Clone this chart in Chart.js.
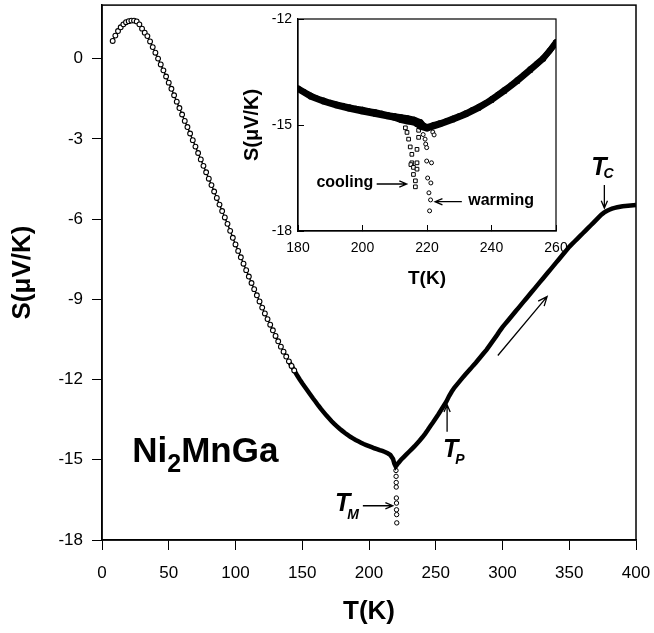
<!DOCTYPE html>
<html>
<head>
<meta charset="utf-8">
<script src="https://cdn.jsdelivr.net/npm/chart.js@4.4.0/dist/chart.umd.min.js"></script>
<style>
  body { margin: 0; background: #fff; }
  #wrap { position: relative; width: 654px; height: 633px; }
  #main { position: absolute; left: 0; top: 0; }
  #inset { position: absolute; left: 230px; top: 0; }
</style>
</head>
<body>
<div id="wrap">
  <canvas id="main" width="654" height="633"></canvas>
  <canvas id="inset" width="340" height="300"></canvas>
</div>
<script>
var FONT = '"Liberation Sans", Arial, Helvetica, sans-serif';

// thermopower of Ni2MnGa, full warming run (T in K, S in uV/K)
var mainT = [8,10,12,14,16,18,20,22,24,26,
  28,30,32,34,36,38,40,42,44,46,
  48,50,52,54,56,58,60,62,64,66,
  68,70,72,74,76,78,80,82,84,86,
  88,90,92,94,96,98,100,102,104,106,
  108,110,112,114,116,118,120,122,124,126,
  128,130,132,134,136,138,140,142,144,146,
  148,150,152,154,156,158,160,162,164,166,
  168,170,172,174,176,178,180,182,184,186,
  188,190,192,194,196,198,200,202,204,206,
  208,210,212,214,216,218,219,220,222,224,
  226,228,230,232,234,236,238,240,242,244,
  246,248,250,252,254,256,258,260,262,264,
  266,268,270,272,274,276,278,280,282,284,
  286,288,290,292,294,296,298,300,302,304,
  306,308,310,312,314,316,318,320,322,324,
  326,328,330,332,334,336,338,340,342,344,
  346,348,350,352,354,356,358,360,362,364,
  366,368,370,372,374,376,378,380,382,384,
  386,388,390,392,394,396,398,400];
var mainS = [0.66,0.86,1.03,1.17,1.28,1.36,1.40,1.42,1.42,1.39,
  1.28,1.12,0.97,0.84,0.64,0.43,0.22,0.00,-0.22,-0.44,
  -0.67,-0.90,-1.13,-1.37,-1.61,-1.85,-2.09,-2.33,-2.56,-2.80,
  -3.05,-3.29,-3.53,-3.77,-4.01,-4.25,-4.49,-4.73,-4.97,-5.21,
  -5.46,-5.70,-5.94,-6.18,-6.44,-6.70,-6.95,-7.19,-7.43,-7.67,
  -7.91,-8.15,-8.39,-8.62,-8.85,-9.08,-9.31,-9.53,-9.74,-9.95,
  -10.16,-10.37,-10.57,-10.77,-10.96,-11.14,-11.32,-11.49,-11.66,-11.83,
  -11.99,-12.14,-12.28,-12.42,-12.56,-12.70,-12.83,-12.97,-13.10,-13.22,
  -13.34,-13.45,-13.56,-13.66,-13.75,-13.84,-13.92,-14.00,-14.07,-14.14,
  -14.20,-14.26,-14.31,-14.36,-14.41,-14.45,-14.49,-14.53,-14.57,-14.60,
  -14.64,-14.67,-14.71,-14.76,-14.82,-14.97,-15.15,-15.25,-15.12,-15.00,
  -14.90,-14.80,-14.70,-14.60,-14.50,-14.39,-14.28,-14.16,-14.03,-13.89,
  -13.74,-13.60,-13.45,-13.30,-13.14,-12.98,-12.82,-12.62,-12.45,-12.30,
  -12.18,-12.06,-11.94,-11.82,-11.71,-11.60,-11.48,-11.37,-11.25,-11.13,
  -11.01,-10.89,-10.75,-10.61,-10.47,-10.33,-10.18,-10.04,-9.92,-9.80,
  -9.68,-9.56,-9.44,-9.32,-9.20,-9.08,-8.96,-8.84,-8.72,-8.60,
  -8.48,-8.36,-8.24,-8.12,-8.00,-7.88,-7.76,-7.64,-7.52,-7.40,
  -7.28,-7.16,-7.04,-6.94,-6.84,-6.74,-6.64,-6.54,-6.44,-6.34,
  -6.24,-6.14,-6.04,-5.94,-5.84,-5.76,-5.70,-5.65,-5.61,-5.58,
  -5.56,-5.54,-5.52,-5.51,-5.50,-5.49,-5.48,-5.47];

// the drop at the martensitic transition
var dropT = [220.2,220.3,220.4,220.4,220.5,220.6,220.6,220.7,220.8];
var dropS = [-15.40,-15.62,-15.85,-16.02,-16.43,-16.62,-16.87,-17.05,-17.36];

// inset, 180-260 K: warming run (circles)
var warmT = [180,182,184,186,188,190,192,194,196,198,200,202,204,206,208,210,212,214,216,218,219,
  220,222,224,226,228,230,232,234,236,238,240,242,244,246,248,250,252,254,256,258,260];
var warmS = [-13.96,-14.07,-14.17,-14.25,-14.31,-14.37,-14.42,-14.46,-14.50,-14.54,-14.57,-14.61,-14.64,-14.68,-14.72,-14.75,-14.78,-14.81,-14.85,-14.92,-15.02,
  -15.06,-15.00,-14.95,-14.89,-14.82,-14.75,-14.67,-14.58,-14.49,-14.39,-14.27,-14.14,-14.01,-13.88,-13.73,-13.58,-13.42,-13.27,-13.11,-12.90,-12.65];
var warmDipT = [218.8,219.4,219.6,219.9,219.9,221.4,220.2,221.2,220.6,221.1,220.8,221.8,222.2];
var warmDipS = [-15.27,-15.40,-15.54,-15.64,-16.02,-16.07,-16.50,-16.64,-16.92,-17.12,-17.43,-15.20,-15.28];

// inset: cooling run (squares)
var coolT = [180,184,188,192,196,200,204,208,210,212,214,216,217,218,220,224,228,232,236,240,244,248,252,256,260];
var coolS = [-13.98,-14.20,-14.34,-14.45,-14.54,-14.62,-14.69,-14.76,-14.80,-14.86,-14.90,-14.93,-14.98,-15.05,-15.10,
  -14.98,-14.85,-14.70,-14.52,-14.30,-14.04,-13.76,-13.45,-13.13,-12.68];
var coolDipT = [213.3,213.8,214.3,214.8,215.3,215.3,215.0,215.8,215.8,216.4,216.4,216.9,216.9,216.9,217.4,217.4];
var coolDipS = [-15.08,-15.21,-15.40,-15.62,-15.83,-16.07,-16.12,-16.20,-16.40,-16.58,-16.75,-15.69,-16.07,-16.25,-15.35,-15.15];

var xTicks = [0,50,100,150,200,250,300,350,400];
var yTicks = [-18,-15,-12,-9,-6,-3,0];
var insetXTicks = [180,200,220,240,260];
var insetYTicks = [-18,-15,-12];

function pts(xs, ys) {
  return xs.map(function (x, i) { return { x: x, y: ys[i] }; });
}
function fixedTicks(list) {
  return function (scale) {
    scale.ticks = list.map(function (v) { return { value: v }; });
  };
}
// fixed axis box, no extra room for the end labels
function fixedSize(key, size) {
  return function (s) {
    s[key] = size;
    s.paddingTop = 0; s.paddingBottom = 0; s.paddingLeft = 0; s.paddingRight = 0;
  };
}

// open arrow head
function arrow(ctx, x1, y1, x2, y2, head) {
  var a = Math.atan2(y2 - y1, x2 - x1);
  ctx.beginPath();
  ctx.moveTo(x1, y1);
  ctx.lineTo(x2, y2);
  ctx.moveTo(x2 - head * Math.cos(a - 0.4), y2 - head * Math.sin(a - 0.4));
  ctx.lineTo(x2, y2);
  ctx.lineTo(x2 - head * Math.cos(a + 0.4), y2 - head * Math.sin(a + 0.4));
  ctx.stroke();
}

// T with an italic subscript
function tLabel(ctx, x, y, sub, dx, dy) {
  ctx.font = 'italic bold 25px ' + FONT;
  ctx.fillText('T', x, y);
  var w = ctx.measureText('T').width;
  ctx.font = 'italic bold 14px ' + FONT;
  ctx.fillText(sub, x + w + dx, y + dy);
}

var frame = {
  id: 'frame',
  beforeDatasetsDraw: function (chart, args, opts) {
    var a = chart.chartArea, ctx = chart.ctx;
    ctx.save();
    ctx.strokeStyle = '#000';
    ctx.lineWidth = opts.width || 1;
    ctx.strokeRect(a.left, a.top, a.right - a.left, a.bottom - a.top);
    ctx.restore();
  }
};

var mainNotes = {
  id: 'mainNotes',
  afterDatasetsDraw: function (chart) {
    var ctx = chart.ctx, xs = chart.scales.x, ys = chart.scales.y;
    var px = function (t) { return xs.getPixelForValue(t); };
    var py = function (s) { return ys.getPixelForValue(s); };
    ctx.save();
    ctx.fillStyle = '#000';
    ctx.strokeStyle = '#000';
    ctx.lineWidth = 1.3;
    ctx.textBaseline = 'alphabetic';
    ctx.textAlign = 'left';

    // compound name
    var x = px(22.7), y = py(-15.07);
    ctx.font = 'bold 35px ' + FONT;
    ctx.fillText('Ni', x, y);
    x += ctx.measureText('Ni').width;
    ctx.font = 'bold 25px ' + FONT;
    ctx.fillText('2', x, y + 10);
    x += ctx.measureText('2').width;
    ctx.font = 'bold 35px ' + FONT;
    ctx.fillText('MnGa', x, y);

    // transition markers
    tLabel(ctx, px(174.5), py(-16.93), 'M', -3, 8);
    arrow(ctx, px(195.4), py(-16.72), px(217.8), py(-16.72), 8);

    tLabel(ctx, px(255.4), py(-14.88), 'P', -3, 7);
    arrow(ctx, px(258.5), py(-13.95), px(258.5), py(-12.94), 8);

    tLabel(ctx, px(366.4), py(-4.36), 'C', -3, 3);
    arrow(ctx, px(376.3), py(-4.73), px(376.3), py(-5.59), 8);

    // direction of the run
    arrow(ctx, px(296.5), py(-11.1), px(333.4), py(-8.9), 10);
    ctx.restore();
  }
};

var insetNotes = {
  id: 'insetNotes',
  afterDatasetsDraw: function (chart) {
    var ctx = chart.ctx, xs = chart.scales.x, ys = chart.scales.y;
    var px = function (t) { return xs.getPixelForValue(t); };
    var py = function (s) { return ys.getPixelForValue(s); };
    ctx.save();
    ctx.fillStyle = '#000';
    ctx.strokeStyle = '#000';
    ctx.lineWidth = 1.3;
    ctx.font = 'bold 16px ' + FONT;
    ctx.textBaseline = 'middle';
    ctx.textAlign = 'left';
    ctx.fillText('cooling', px(185.7), py(-16.64));
    arrow(ctx, px(204.4), py(-16.67), px(213.7), py(-16.67), 8);
    ctx.fillText('warming', px(232.8), py(-17.15));
    arrow(ctx, px(230.8), py(-17.17), px(222.5), py(-17.17), 8);
    ctx.restore();
  }
};

Chart.defaults.font.family = FONT;
Chart.defaults.color = '#000';

function axis(opts) {
  return {
    type: 'linear',
    min: opts.min,
    max: opts.max,
    afterBuildTicks: fixedTicks(opts.ticks),
    afterFit: opts.fit,
    grid: { drawOnChartArea: false, color: '#000', lineWidth: 1, tickLength: opts.tick },
    border: { color: '#000', width: opts.border },
    ticks: { color: '#000', font: { size: opts.size }, padding: opts.pad, maxRotation: 0, autoSkip: false },
    title: { display: true, text: opts.title, color: '#000', font: { size: opts.titleSize, weight: 'bold' }, padding: opts.titlePad }
  };
}

new Chart(document.getElementById('main'), {
  type: 'scatter',
  data: {
    datasets: [
      {
        data: pts(mainT, mainS),
        showLine: true,
        borderColor: '#000',
        segment: {
          borderWidth: function (c) { return c.p0.parsed.x >= 140 ? 4.5 : 1.4; }
        },
        pointStyle: 'circle',
        pointRadius: function (c) { return c.raw && c.raw.x < 146 ? 2.4 : 0; },
        pointBorderWidth: 1.1,
        pointBorderColor: '#000',
        pointBackgroundColor: '#fff'
      },
      {
        data: pts(dropT, dropS),
        showLine: false,
        pointStyle: 'circle',
        pointRadius: 2.2,
        pointBorderWidth: 1,
        pointBorderColor: '#000',
        pointBackgroundColor: '#fff'
      }
    ]
  },
  options: {
    animation: false,
    responsive: false,
    devicePixelRatio: 1,
    layout: { padding: { top: 5, right: 18, left: 0, bottom: 0 } },
    plugins: { legend: { display: false }, tooltip: { enabled: false }, frame: { width: 1.5 } },
    scales: {
      x: axis({ min: 0, max: 400, ticks: xTicks, fit: fixedSize('height', 93), tick: 10, border: 1.5,
        size: 17, pad: 13, title: 'T(K)', titleSize: 26, titlePad: { top: 0, bottom: 6 } }),
      y: axis({ min: -18, max: 2, ticks: yTicks, fit: fixedSize('width', 102), tick: 10, border: 1.5,
        size: 17, pad: 9, title: 'S(\u03bcV/K)', titleSize: 26, titlePad: { top: 7, bottom: 0 } })
    }
  },
  plugins: [frame, mainNotes]
});

new Chart(document.getElementById('inset'), {
  type: 'scatter',
  data: {
    datasets: [
      {
        data: pts(coolT, coolS),
        showLine: true,
        borderColor: '#000',
        borderWidth: 6,
        pointStyle: 'rect',
        pointRadius: 3,
        pointBorderWidth: 1,
        pointBorderColor: '#000',
        pointBackgroundColor: '#000'
      },
      {
        data: pts(warmT, warmS),
        showLine: true,
        borderColor: '#000',
        borderWidth: 6,
        pointStyle: 'circle',
        pointRadius: 2.6,
        pointBorderWidth: 1,
        pointBorderColor: '#000',
        pointBackgroundColor: '#000'
      },
      {
        data: pts(coolDipT, coolDipS),
        showLine: false,
        pointStyle: 'rect',
        pointRadius: 2.6,
        pointBorderWidth: 1,
        pointBorderColor: '#000',
        pointBackgroundColor: '#fff'
      },
      {
        data: pts(warmDipT, warmDipS),
        showLine: false,
        pointStyle: 'circle',
        pointRadius: 2,
        pointBorderWidth: 1,
        pointBorderColor: '#000',
        pointBackgroundColor: '#fff'
      }
    ]
  },
  options: {
    animation: false,
    responsive: false,
    devicePixelRatio: 1,
    layout: { padding: { top: 19, right: 14, left: 0, bottom: 0 } },
    plugins: { legend: { display: false }, tooltip: { enabled: false }, frame: { width: 1.2 } },
    scales: {
      x: axis({ min: 180, max: 260, ticks: insetXTicks, fit: fixedSize('height', 69), tick: -6, border: 1.2,
        size: 14, pad: 15, title: 'T(K)', titleSize: 19, titlePad: { top: 0, bottom: 10 } }),
      y: axis({ min: -18, max: -12, ticks: insetYTicks, fit: fixedSize('width', 68), tick: -6, border: 1.2,
        size: 14, pad: 12, title: 'S(\u03bcV/K)', titleSize: 20, titlePad: { top: 10, bottom: 0 } })
    }
  },
  plugins: [frame, insetNotes]
});
</script>
</body>
</html>
